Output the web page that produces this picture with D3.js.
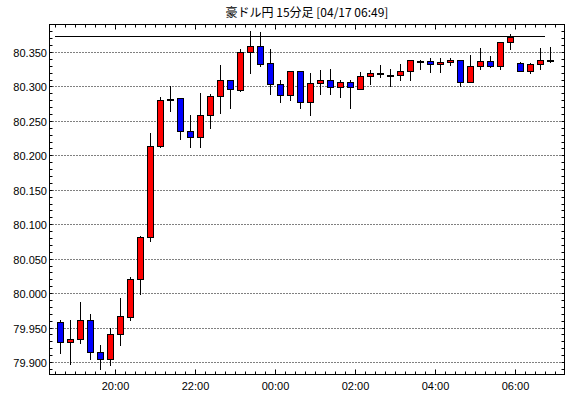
<!DOCTYPE html>
<html>
<head>
<meta charset="utf-8">
<script src="https://cdn.jsdelivr.net/npm/d3@7/dist/d3.min.js"></script>
<style>
  body { margin: 0; background: #fff; }
  svg text { font-family: "Liberation Sans", Arial, sans-serif; font-size: 11px; fill: #000; }
  svg text.title { font-family: "Noto Sans CJK JP", sans-serif; font-size: 12px; }
</style>
</head>
<body>
<div id="chart"></div>
<script>
// 15 minute candles, 04/16 18:30 -> 04/17 06:45
var times = ["18:30","18:45","19:00","19:15","19:30","19:45","20:00","20:15","20:30","20:45",
             "21:00","21:15","21:30","21:45","22:00","22:15","22:30","22:45","23:00","23:15",
             "23:30","23:45","00:00","00:15","00:30","00:45","01:00","01:15","01:30","01:45",
             "02:00","02:15","02:30","02:45","03:00","03:15","03:30","03:45","04:00","04:15",
             "04:30","04:45","05:00","05:15","05:30","05:45","06:00","06:15","06:30","06:45"];
var opens  = [79.958,79.929,79.933,79.961,79.915,79.905,79.941,79.966,80.021,80.082,
              80.213,80.282,80.283,80.236,80.226,80.258,80.286,80.310,80.295,80.350,
              80.358,80.334,80.303,80.287,80.322,80.278,80.305,80.310,80.299,80.306,
              80.297,80.315,80.320,80.317,80.316,80.323,80.337,80.337,80.332,80.335,
              80.339,80.307,80.329,80.337,80.329,80.364,80.334,80.323,80.332,80.338];
var highs  = [79.961,79.961,79.987,79.970,79.925,79.950,79.993,80.023,80.083,80.233,
              80.284,80.301,80.283,80.259,80.291,80.289,80.331,80.310,80.355,80.380,
              80.379,80.354,80.310,80.323,80.322,80.319,80.324,80.325,80.309,80.309,
              80.321,80.324,80.331,80.325,80.333,80.338,80.338,80.341,80.341,80.342,
              80.339,80.346,80.356,80.344,80.364,80.376,80.335,80.334,80.356,80.357];
var lows   = [79.913,79.897,79.928,79.904,79.890,79.895,79.925,79.961,79.998,80.076,
              80.212,80.265,80.224,80.212,80.212,80.240,80.262,80.268,80.293,80.320,
              80.329,80.289,80.278,80.281,80.268,80.259,80.289,80.289,80.285,80.268,
              80.296,80.303,80.313,80.300,80.310,80.310,80.326,80.321,80.321,80.331,
              80.300,80.307,80.326,80.328,80.325,80.354,80.323,80.319,80.326,80.336];
var closes = [79.929,79.933,79.961,79.914,79.905,79.941,79.967,80.021,80.082,80.213,
              80.281,80.282,80.236,80.226,80.259,80.286,80.310,80.296,80.350,80.358,
              80.333,80.303,80.287,80.322,80.278,80.305,80.310,80.299,80.306,80.299,
              80.315,80.320,80.318,80.317,80.323,80.338,80.337,80.332,80.335,80.339,
              80.307,80.329,80.337,80.329,80.364,80.372,80.323,80.332,80.339,80.338];

var yTicks = [79.900, 79.950, 80.000, 80.050, 80.100, 80.150, 80.200, 80.250, 80.300, 80.350];
var xTickLabels = ["20:00", "22:00", "00:00", "02:00", "04:00", "06:00"];
var refLevel = 80.373;
var title = "豪ドル円 15分足 [04/17 06:49]";

var width = 570, height = 398;
var frame = { left: 49.5, top: 24.5, right: 564.5, bottom: 374.5 };

// times before noon belong to the next day
var parseT = d3.timeParse("%Y-%m-%d %H:%M");
function toDate(t) { return parseT((t < "12:00" ? "2019-04-17 " : "2019-04-16 ") + t); }

var data = times.map(function(t, i) {
    return { date: toDate(t), o: opens[i], h: highs[i], l: lows[i], c: closes[i] };
});

var x = d3.scaleTime()
    .domain([data[0].date, data[data.length - 1].date])
    .range([55, 545]);

var y = d3.scaleLinear()
    .domain([79.900, 80.350])
    .range([362, 52]);

var px = function(v) { return Math.round(v) + 0.5; };

var svg = d3.select('#chart').append('svg')
    .attr('width', width)
    .attr('height', height);

// title
svg.append('text')
    .attr('class', 'title')
    .attr('x', (frame.left + frame.right) / 2)
    .attr('y', 17)
    .attr('text-anchor', 'middle')
    .text(title);

// dotted grid + y labels
svg.selectAll('.grid')
    .data(yTicks)
    .enter()
    .append('line')
    .attr('class', 'grid')
    .attr('x1', frame.left)
    .attr('x2', frame.right)
    .attr('y1', function(d) { return px(y(d)); })
    .attr('y2', function(d) { return px(y(d)); })
    .attr('stroke', '#000')
    .attr('stroke-dasharray', '1,2');

svg.selectAll('.ylabel')
    .data(yTicks)
    .enter()
    .append('text')
    .attr('class', 'ylabel')
    .attr('x', 47)
    .attr('y', function(d) { return Math.round(y(d)) + 5; })
    .attr('text-anchor', 'end')
    .text(function(d) { return d3.format('.3f')(d); });

// minor ticks on left and right, every 0.01
var yFull = y.copy().domain([y.invert(frame.bottom), y.invert(frame.top)]);
var yMinor = yFull.ticks(50).filter(function(d) { var p = y(d); return p > frame.top + 1 && p < frame.bottom - 1; });

svg.selectAll('.ytickL')
    .data(yMinor)
    .enter()
    .append('line')
    .attr('x1', frame.left)
    .attr('x2', frame.left + 3)
    .attr('y1', function(d) { return px(y(d)); })
    .attr('y2', function(d) { return px(y(d)); })
    .attr('stroke', '#000');

svg.selectAll('.ytickR')
    .data(yMinor)
    .enter()
    .append('line')
    .attr('x1', frame.right - 3)
    .attr('x2', frame.right)
    .attr('y1', function(d) { return px(y(d)); })
    .attr('y2', function(d) { return px(y(d)); })
    .attr('stroke', '#000');

// time ticks: every 15 min, longer every 2 hours
var xMinor = d3.timeMinute.every(15).range(x.invert(frame.left), x.invert(frame.right));
var isMajor = function(d) { return d.getMinutes() === 0 && d.getHours() % 2 === 0; };

svg.selectAll('.xtickB')
    .data(xMinor)
    .enter()
    .append('line')
    .attr('x1', function(d) { return px(x(d)); })
    .attr('x2', function(d) { return px(x(d)); })
    .attr('y1', frame.bottom)
    .attr('y2', function(d) { return frame.bottom - (isMajor(d) ? 5 : 3); })
    .attr('stroke', '#000');

svg.selectAll('.xtickT')
    .data(xMinor)
    .enter()
    .append('line')
    .attr('x1', function(d) { return px(x(d)); })
    .attr('x2', function(d) { return px(x(d)); })
    .attr('y1', frame.top)
    .attr('y2', function(d) { return frame.top + (isMajor(d) ? 5 : 3); })
    .attr('stroke', '#000');

svg.selectAll('.xlabel')
    .data(xTickLabels)
    .enter()
    .append('text')
    .attr('class', 'xlabel')
    .attr('x', function(d) { return px(x(toDate(d))); })
    .attr('y', 390)
    .attr('text-anchor', 'middle')
    .text(function(d) { return d; });

// reference line near the session high
svg.append('line')
    .attr('x1', x(data[0].date))
    .attr('x2', x(data[data.length - 1].date))
    .attr('y1', px(y(refLevel)))
    .attr('y2', px(y(refLevel)))
    .attr('stroke', '#000');

// candles: centre sits half a slot right of its time tick
var cx = function(d) { return Math.round(x(d.date)) + 5; };

var candles = svg.selectAll('.candle')
    .data(data)
    .enter()
    .append('g')
    .attr('class', 'candle');

candles.append('line')
    .attr('x1', function(d) { return cx(d) + 0.5; })
    .attr('x2', function(d) { return cx(d) + 0.5; })
    .attr('y1', function(d) { return Math.round(y(d.h)); })
    .attr('y2', function(d) { return Math.round(y(d.l)) + 1; })
    .attr('stroke', '#000');

candles.append('rect')
    .attr('x', function(d) { return cx(d) - 3 + 0.5; })
    .attr('width', 6)
    .attr('y', function(d) { return Math.round(y(Math.max(d.o, d.c))) + 0.5; })
    .attr('height', function(d) {
        var h = Math.round(y(Math.min(d.o, d.c))) - Math.round(y(Math.max(d.o, d.c)));
        return Math.max(h, 1);
    })
    .attr('fill', function(d) {
        if (d.c === d.o) return '#000';
        return d.c > d.o ? '#ff0000' : '#0000ff';
    })
    .attr('stroke', '#000');

// frame
svg.append('rect')
    .attr('x', frame.left)
    .attr('y', frame.top)
    .attr('width', frame.right - frame.left)
    .attr('height', frame.bottom - frame.top)
    .attr('fill', 'none')
    .attr('stroke', '#000');
</script>
</body>
</html>
